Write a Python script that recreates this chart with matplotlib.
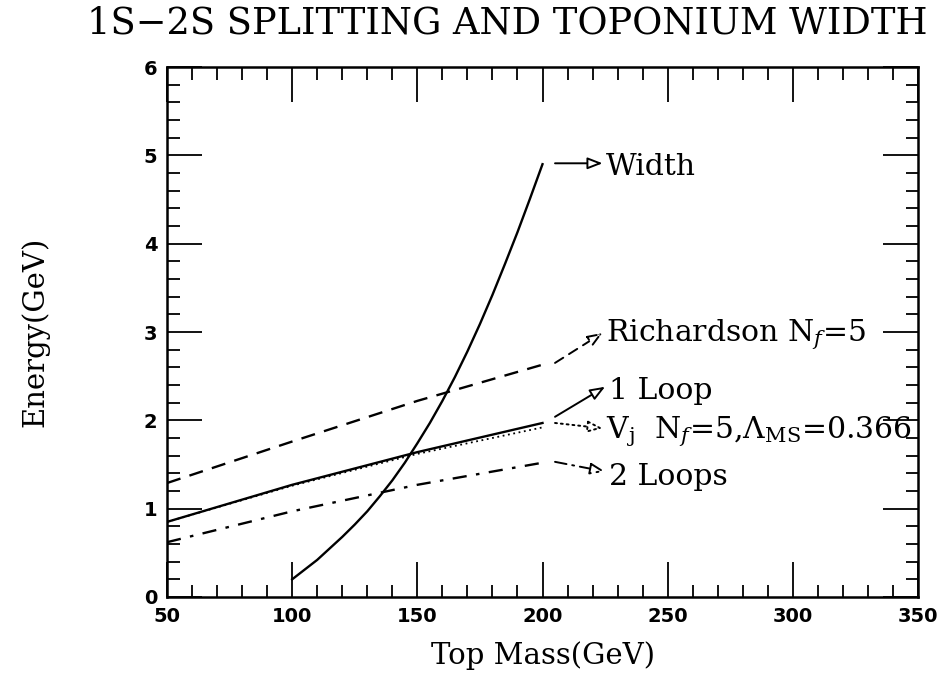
import matplotlib
matplotlib.use("Agg")
import matplotlib.pyplot as plt
from matplotlib.patches import FancyArrowPatch
from matplotlib.ticker import MultipleLocator

plt.rcParams["font.family"] = "DejaVu Serif"
plt.rcParams["mathtext.fontset"] = "dejavuserif"

# curves (top mass in GeV, energy in GeV)
mass = [50, 100, 150, 200]
richardson = [1.29, 1.76, 2.22, 2.63]
one_loop = [0.85, 1.27, 1.64, 1.97]
vj = [0.85, 1.26, 1.62, 1.92]
two_loops = [0.62, 0.97, 1.27, 1.52]

width_mass = [100, 105, 110, 115, 120, 125, 130, 135, 140, 145, 150, 155, 160,
              165, 170, 175, 180, 185, 190, 195, 200]
width = [0.2, 0.31, 0.42, 0.55, 0.68, 0.82, 0.97, 1.14, 1.32, 1.52, 1.74, 1.97,
         2.22, 2.49, 2.78, 3.09, 3.42, 3.77, 4.13, 4.51, 4.9]

# label arrows: (start x, start y, tip x, tip y, linestyle, text, text y)
labels = [
    (205, 4.91, 224, 4.91, "-", "Width", 4.87),
    (205, 2.65, 224, 2.99, (0, (5, 3.5)), r"Richardson N$_{\it f}$=5", 2.97),
    (205, 2.04, 225, 2.38, "-", "1 Loop", 2.33),
    (205, 1.97, 224, 1.91, (0, (1, 2)), r"V$_{\rm j}$  N$_{\it f}$=5,$\Lambda_{\rm MS}$=0.366", 1.87),
    (205, 1.53, 225, 1.42, (0, (6, 3, 1, 3)), "2 Loops", 1.36),
]

fig = plt.figure(figsize=(9.43, 6.77), dpi=100)
ax = fig.add_axes([0.1771, 0.1182, 0.9735 - 0.1771, 0.901 - 0.1182])

lw = 1.7
ax.plot(width_mass, width, color="black", lw=lw)
ax.plot(mass, richardson, color="black", lw=lw, linestyle=(0, (6, 4)))
ax.plot(mass, one_loop, color="black", lw=lw)
ax.plot(mass, vj, color="black", lw=1.3, linestyle=(0, (1, 2)))
ax.plot(mass, two_loops, color="black", lw=lw, linestyle=(0, (6, 4, 1.5, 4)))

for x0, y0, x1, y1, ls, txt, ty in labels:
    arr = FancyArrowPatch((x0, y0), (x1, y1), arrowstyle="-|>,head_length=9,head_width=3.5",
                          edgecolor="black", facecolor="white", lw=1.4, linestyle=ls,
                          shrinkA=0, shrinkB=0, zorder=3)
    ax.add_patch(arr)
    ax.text(x1 + 1.5, ty, txt, fontsize=21.5, va="center", ha="left")

ax.set_xlim(50, 350)
ax.set_ylim(0, 6)
ax.xaxis.set_major_locator(MultipleLocator(50))
ax.xaxis.set_minor_locator(MultipleLocator(10))
ax.yaxis.set_major_locator(MultipleLocator(1))
ax.yaxis.set_minor_locator(MultipleLocator(0.2))
ax.tick_params(which="both", direction="in", top=True, right=True, width=1.3)
ax.tick_params(which="major", length=25, labelsize=14, pad=7)
ax.tick_params(which="minor", length=9)
for lab in ax.get_xticklabels() + ax.get_yticklabels():
    lab.set_fontfamily("DejaVu Sans")
    lab.set_fontweight("bold")
for sp in ax.spines.values():
    sp.set_linewidth(1.8)

ax.set_xlabel("Top Mass(GeV)", fontsize=21, labelpad=11)
ax.set_ylabel("Energy(GeV)", fontsize=21, labelpad=68)
fig.text(0.538, 0.965, "1S\u22122S SPLITTING AND TOPONIUM WIDTH", fontsize=26.5,
         ha="center", va="center")

fig.savefig("out.png", dpi=100)
